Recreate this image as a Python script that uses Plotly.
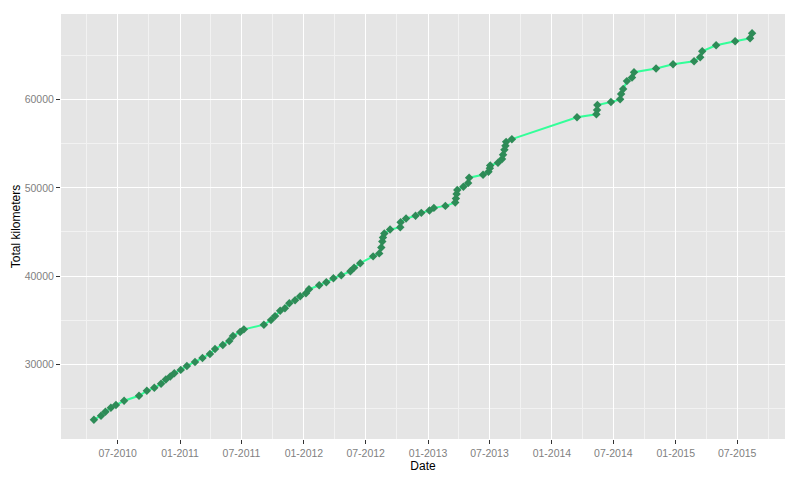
import pandas as pd
import plotly.graph_objects as go

dates = [
    "2010-04-22", "2010-05-13", "2010-05-26", "2010-06-11", "2010-06-26", "2010-07-20",
    "2010-09-02", "2010-09-25", "2010-10-17", "2010-11-06", "2010-11-20", "2010-12-03",
    "2010-12-15", "2011-01-03", "2011-01-21", "2011-02-14", "2011-03-08", "2011-03-30",
    "2011-04-14", "2011-05-07", "2011-05-26", "2011-06-06", "2011-06-27", "2011-07-08",
    "2011-09-05", "2011-09-26", "2011-10-08", "2011-10-23", "2011-11-06", "2011-11-19",
    "2011-12-06", "2011-12-21", "2012-01-07", "2012-01-16", "2012-02-15", "2012-03-07",
    "2012-03-28", "2012-04-20", "2012-05-17", "2012-05-28", "2012-06-15", "2012-07-23",
    "2012-08-10", "2012-08-16", "2012-08-19", "2012-08-21", "2012-08-25", "2012-09-11",
    "2012-10-11", "2012-10-12", "2012-10-28", "2012-11-25", "2012-12-12", "2013-01-05",
    "2013-01-18", "2013-02-21", "2013-03-22", "2013-03-24", "2013-03-26", "2013-03-28",
    "2013-04-15", "2013-04-29", "2013-05-02", "2013-06-12", "2013-06-28", "2013-07-02",
    "2013-07-03", "2013-07-26", "2013-08-07", "2013-08-10", "2013-08-14", "2013-08-17",
    "2013-08-19", "2013-09-05", "2014-03-16", "2014-05-12", "2014-05-14", "2014-05-15",
    "2014-06-24", "2014-07-21", "2014-07-24", "2014-07-30", "2014-08-10", "2014-08-25",
    "2014-08-31", "2014-11-04", "2014-12-24", "2015-02-24", "2015-03-14", "2015-03-20",
    "2015-04-30", "2015-06-25", "2015-08-08", "2015-08-14",
]
total_km = [
    23711, 24163, 24615, 25066, 25371, 25857,
    26421, 26986, 27324, 27776, 28273, 28611,
    28984, 29356, 29808, 30260, 30711, 31163,
    31727, 32179, 32631, 33195, 33647, 33952,
    34482, 35001, 35453, 36063, 36356, 36921,
    37259, 37711, 38050, 38501, 38953, 39292,
    39743, 40082, 40534, 40951, 41459, 42227,
    42566, 43232, 43909, 44372, 44812, 45264,
    45524, 46088, 46517, 46822, 47161, 47420,
    47725, 47951, 48324, 48775, 49306, 49758,
    50130, 50548, 51146, 51485, 51824, 52207,
    52524, 52840, 53257, 53743, 54307, 54759,
    55211, 55515, 57999, 58338, 58823, 59388,
    59727, 60031, 60630, 61194, 62097, 62515,
    63114, 63531, 64017, 64355, 64807, 65484,
    66162, 66613, 66952, 67517,
]

x_title = "Date"
y_title = "Total kilometers"

d = pd.to_datetime(pd.Series(dates))
xmin, xmax = d.min(), d.max()
xpad = (xmax - xmin) * 0.05
ymin, ymax = min(total_km), max(total_km)
ypad = (ymax - ymin) * 0.05

fig = go.Figure()
fig.add_trace(go.Scatter(
    x=d, y=total_km, mode="lines",
    line=dict(color="#33FF99", width=2),
    hoverinfo="skip", showlegend=False,
))
fig.add_trace(go.Scatter(
    x=d, y=total_km, mode="markers",
    marker=dict(symbol="diamond", size=6.5, color="#2E8B57", line=dict(width=0)),
    showlegend=False,
))

# page body has an 8px default margin; figure sized to fit the window
font_family = "Liberation Sans, Arial, sans-serif"
fig.update_layout(
    width=792, height=472,
    margin=dict(l=53, r=15, t=6, b=41, autoexpand=False),
    paper_bgcolor="white",
    plot_bgcolor="#E5E5E5",
    font=dict(family=font_family, size=12, color="black"),
    xaxis=dict(
        range=[xmin - xpad, xmax + xpad],
        tick0="2010-07-01", dtick="M6", tickformat="%m-%Y",
        showgrid=True, gridcolor="white", gridwidth=1.2,
        minor=dict(dtick="M3", tick0="2010-07-01", showgrid=True, gridcolor="#F2F2F2", gridwidth=1),
        ticks="outside", ticklen=4, tickcolor="#333333", tickwidth=1,
        tickfont=dict(size=10.5, color="#7F7F7F"),
        zeroline=False, showline=False, automargin=False,
        title=dict(text=x_title, font=dict(size=12, color="black"), standoff=2),
    ),
    yaxis=dict(
        range=[ymin - ypad, ymax + ypad],
        tick0=0, dtick=10000, tickformat="d",
        showgrid=True, gridcolor="white", gridwidth=1.2,
        minor=dict(dtick=5000, tick0=0, showgrid=True, gridcolor="#F2F2F2", gridwidth=1),
        ticks="outside", ticklen=4, tickcolor="#333333", tickwidth=1,
        tickfont=dict(size=10.5, color="#7F7F7F"),
        zeroline=False, showline=False, automargin=False,
        title=dict(text=y_title, font=dict(size=12, color="black"), standoff=1),
    ),
)

fig.write_html("out.html")
